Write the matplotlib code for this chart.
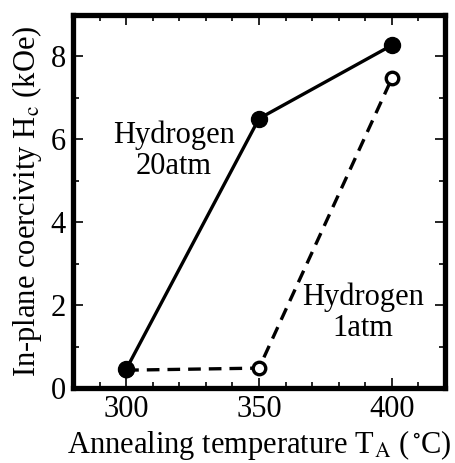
import matplotlib
matplotlib.use("Agg")
import matplotlib.pyplot as plt
from matplotlib.ticker import MultipleLocator

# Data
temps = [300, 350, 400]
hc_20atm = [0.45, 6.5, 8.27]
hc_1atm = [0.43, 0.48, 7.47]

plt.rcParams['font.family'] = ['Liberation Serif', 'DejaVu Serif']
plt.rcParams['mathtext.fontset'] = 'stix'

fig = plt.figure(figsize=(4.55, 4.63), dpi=100)
ax = fig.add_axes([73 / 455, 1 - 388 / 463, (445 - 73) / 455, (388 - 15) / 463])

ax.plot(temps, hc_20atm, color='black', linestyle='-', linewidth=2.4,
        marker='o', markersize=11.5, markerfacecolor='black', markeredgecolor='black', zorder=3)
ax.plot(temps, hc_1atm, color='black', linestyle=(0, (3.8, 2.4)), linewidth=2.4,
        marker='o', markersize=9, markerfacecolor='white', markeredgecolor='black',
        markeredgewidth=2.4, zorder=2)

ax.text(318, 5.72, "Hydrogen\n20atm", ha='center', va='center', fontsize=22, linespacing=1.1)
ax.text(389, 1.82, "Hydrogen\n1atm", ha='center', va='center', fontsize=22, linespacing=1.1)

ax.set_xlim(280, 420)
ax.set_ylim(0, 9)
ax.xaxis.set_major_locator(MultipleLocator(50))
ax.xaxis.set_minor_locator(MultipleLocator(10))
ax.yaxis.set_major_locator(MultipleLocator(2))
ax.yaxis.set_minor_locator(MultipleLocator(1))
ax.tick_params(which='both', direction='in', top=True, right=True, width=1.2)
ax.tick_params(which='major', length=7, labelsize=22, pad=5)
ax.tick_params(which='minor', length=4)
for s in ax.spines.values():
    s.set_linewidth(3.8)

ax.set_xlabel(r"Annealing temperature T$_\mathrm{A}$ ($^\circ\!$C)", fontsize=22, labelpad=3)
ax.set_ylabel(r"In-plane coercivity H$_\mathrm{c}$ (kOe)", fontsize=22, labelpad=5)

fig.savefig("out.png", dpi=100)
